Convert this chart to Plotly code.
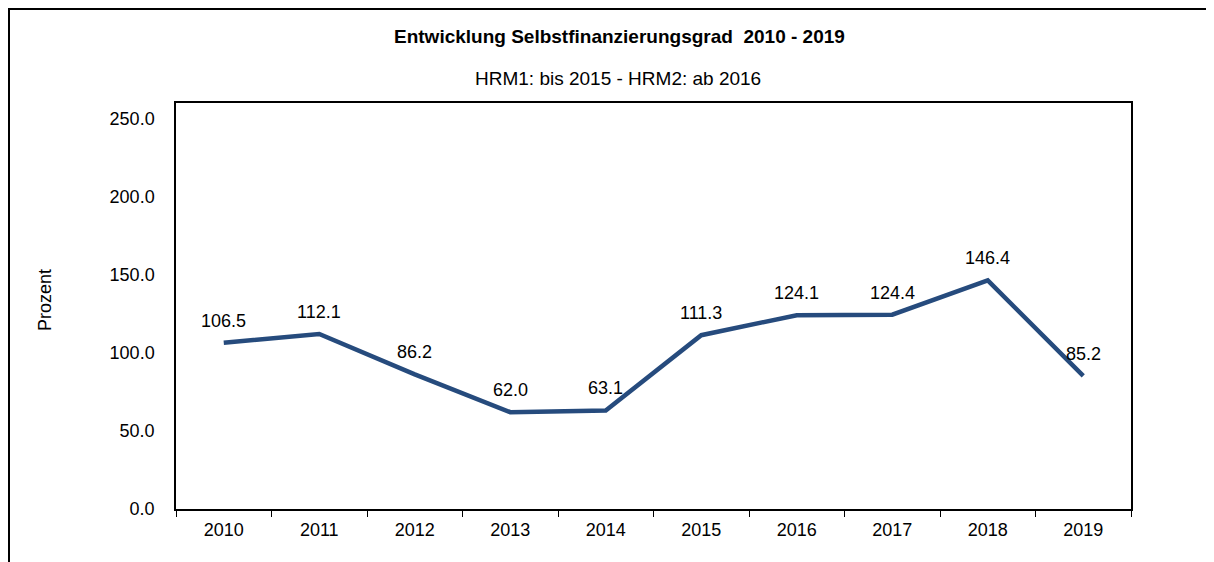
import plotly.graph_objects as go

jahre = ["2010", "2011", "2012", "2013", "2014", "2015", "2016", "2017", "2018", "2019"]
selbstfinanzierungsgrad = [106.5, 112.1, 86.2, 62.0, 63.1, 111.3, 124.1, 124.4, 146.4, 85.2]
y_ticks = [0, 50, 100, 150, 200, 250]

FONT = "Arial, Liberation Sans, sans-serif"

# Seite hat 8px Body-Rand -> Figur entsprechend kleiner
W, H = 1206, 554
L, T, PW, PH = 168, 95, 955, 406

fig = go.Figure()

fig.add_trace(
    go.Scatter(
        x=jahre,
        y=selbstfinanzierungsgrad,
        mode="lines",
        line=dict(color="#264B7D", width=4.5),
        hoverinfo="skip",
    )
)

# Datenbeschriftungen über den Punkten (x als Kategorie-Index)
for i, wert in enumerate(selbstfinanzierungsgrad):
    fig.add_annotation(
        x=i, y=wert, text=f"{wert:.1f}",
        showarrow=False, yshift=22,
        font=dict(size=18, color="#000000"),
    )

fig.update_layout(
    width=W,
    height=H,
    margin=dict(l=L, r=W - L - PW, t=T, b=H - T - PH),
    paper_bgcolor="white",
    plot_bgcolor="white",
    showlegend=False,
    font=dict(family=FONT, size=18, color="#000000"),
)

fig.update_xaxes(
    type="category",
    categoryorder="array",
    categoryarray=jahre,
    range=[-0.5, len(jahre) - 0.5],
    tickson="boundaries",
    ticks="outside",
    ticklen=6,
    tickcolor="#000000",
    tickwidth=1,
    tickangle=0,
    ticklabelstandoff=3,
    showgrid=False,
    showline=True,
    linecolor="#000000",
    linewidth=2,
    mirror=True,
    automargin=False,
    tickfont=dict(size=18),
)

fig.update_yaxes(
    range=[0, 260],
    tickvals=y_ticks,
    ticktext=[f"{v:.1f}" for v in y_ticks],
    showgrid=False,
    zeroline=False,
    showline=True,
    linecolor="#000000",
    linewidth=1.5,
    mirror=True,
    ticks="",
    ticklabelstandoff=16,
    automargin=False,
    tickfont=dict(size=18),
)

# Titel und Untertitel
fig.add_annotation(
    text="<b>Entwicklung Selbstfinanzierungsgrad  2010 - 2019</b>",
    xref="paper", yref="paper", x=(611 - L) / PW, y=1 + (T - 28) / PH,
    xanchor="center", yanchor="middle",
    showarrow=False, font=dict(size=19),
)
fig.add_annotation(
    text="HRM1: bis 2015 - HRM2: ab 2016",
    xref="paper", yref="paper", x=(610 - L) / PW, y=1 + (T - 70) / PH,
    xanchor="center", yanchor="middle",
    showarrow=False, font=dict(size=19),
)
fig.add_annotation(
    text="Prozent",
    xref="paper", yref="paper", x=(37 - L) / PW, y=(T + PH - 292) / PH,
    xanchor="center", yanchor="middle",
    textangle=-90, showarrow=False, font=dict(size=18),
)

# Rahmen um die Grafik
fig.add_shape(
    type="rect", xref="paper", yref="paper",
    x0=(1 - L) / PW, x1=1.2, y0=-0.2, y1=1 + (T - 1) / PH,
    line=dict(color="#000000", width=2),
)

fig.write_html("out.html")
